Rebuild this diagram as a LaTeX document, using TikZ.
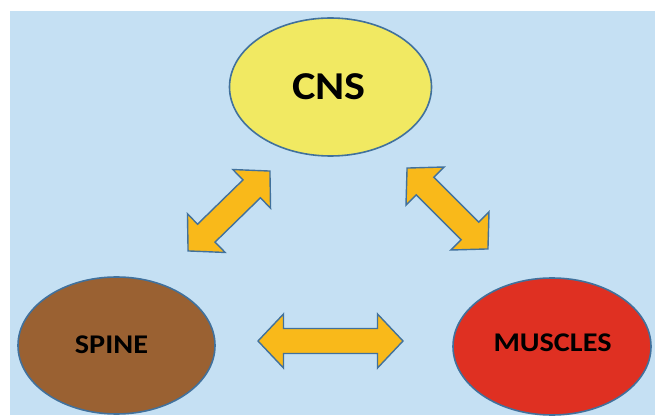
\documentclass[tikz,border=0pt]{standalone}
\usepackage{fontspec}
\newfontfamily\lblfont[FakeStretch=1.12]{Carlito}
\definecolor{bgblue}{RGB}{197,224,243}
\definecolor{edgeblue}{RGB}{65,113,156}
\definecolor{cnsyellow}{RGB}{241,233,98}
\definecolor{spinebrown}{RGB}{154,97,50}
\definecolor{musclered}{RGB}{223,48,34}
\definecolor{arroworange}{RGB}{249,185,26}
\tikzset{
  organ/.style={ellipse, draw=edgeblue, line width=1.6pt, inner sep=0pt},
  lbl/.style={font=\lblfont\bfseries, text=black},
  blockarrow/.style={fill=arroworange, draw=edgeblue, line width=1.4pt, line join=miter},
}
\usetikzlibrary{shapes.geometric}
% double block arrow: #1 center, #2 angle, #3 half-length
\newcommand{\dblarrow}[3]{%
  \draw[blockarrow, shift={#1}, rotate=#2]
    (-#3,0) -- (-#3+25.5,27) -- (-#3+25.5,12.5) -- (#3-25.5,12.5) -- (#3-25.5,27)
    -- (#3,0) -- (#3-25.5,-27) -- (#3-25.5,-12.5) -- (-#3+25.5,-12.5) -- (-#3+25.5,-27) -- cycle;}
\begin{document}
\begin{tikzpicture}[x=1pt,y=1pt]
  \useasboundingbox (0,0) rectangle (655,415);
  \fill[white] (0,0) rectangle (655,415);
  \fill[bgblue] (10,0) rectangle (655,404);
  % ellipses
  \node[organ, fill=cnsyellow, minimum width=202pt, minimum height=138pt] (cns) at (330.5,328) {};
  \node[organ, fill=spinebrown, minimum width=197pt, minimum height=137pt] (spine) at (116.5,69.5) {};
  \node[organ, fill=musclered, minimum width=198pt, minimum height=137pt] (muscles) at (552,68.5) {};
  % labels
  \node[lbl, font=\lblfont\bfseries\fontsize{39.5}{40}\selectfont] (cnslbl) at (329,328.3) {CNS};
  \node[lbl, font=\lblfont\bfseries\fontsize{27}{28}\selectfont] (spinelbl) at (111.5,70) {SPINE};
  \node[lbl, font=\lblfont\bfseries\fontsize{27}{28}\selectfont] (muscleslbl) at (552.5,72) {MUSCLES};
  % arrows
  \dblarrow{(330.5,74)}{0}{72.5}
  \dblarrow{(229,204)}{44.3}{57.2}
  \dblarrow{(447.5,206.5)}{-45}{57.2}
\end{tikzpicture}
\end{document}
